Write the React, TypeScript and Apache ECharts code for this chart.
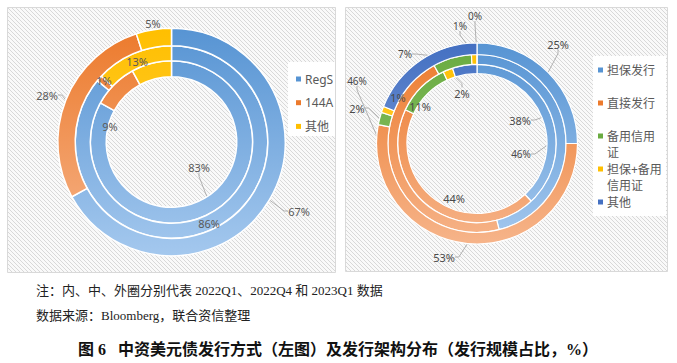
import React, { useEffect, useRef } from 'react';
import * as echarts from 'echarts';

// ---------- data ----------
const leftCategories = ['RegS', '144A', '其他'];
const left2022Q1 = [83, 9, 8];
const left2022Q4 = [86, 1, 13];
const left2023Q1 = [67, 28, 5];

const rightCategories = ['担保发行', '直接发行', '备用信用证', '担保+备用信用证', '其他'];
const rightLegendText = ['担保发行', '直接发行', '备用信用\n证', '担保+备用\n信用证', '其他'];
const right2022Q1 = [38, 44, 11, 2, 5];
const right2022Q4 = [46, 46, 7, 1, 0];
const right2023Q1 = [25, 53, 2, 1, 19];

const noteText = '注：内、中、外圈分别代表 2022Q1、2022Q4 和 2023Q1 数据';
const sourceText = '数据来源：Bloomberg，联合资信整理';
const titleText = '图 6   中资美元债发行方式（左图）及发行架构分布（发行规模占比，%）';

// ---------- styles ----------
const BLUE: [string, string] = ['#5794d3', '#a4c8ee'];
const ORANGE: [string, string] = ['#ec7a2c', '#f6b48a'];
const YELLOW: [string, string] = ['#ffbf00', '#ffd24d'];
const GREEN: [string, string] = ['#6aab41', '#8cc46a'];
const DBLUE: [string, string] = ['#4470c2', '#8aa7df'];
const leftColors = [BLUE, ORANGE, YELLOW];
const rightColors = [BLUE, ORANGE, GREEN, YELLOW, DBLUE];

const SANS = "'Noto Sans', 'Noto Sans CJK SC', sans-serif";
const SERIF = "'Liberation Serif', 'Noto Sans CJK SC', serif";

// label placement: seriesIndex-dataIndex -> [x, y, leaderLine, fontSize]
const labelPlace: Record<string, [number, number, boolean, number]> = {
  '0-0': [199, 167, true, 11],
  '0-1': [110, 126, true, 11],
  '1-0': [209, 223, false, 11],
  '1-1': [104, 80, false, 11],
  '1-2': [137, 61, false, 11],
  '2-0': [299, 211, true, 11],
  '2-1': [47, 95, true, 11],
  '2-2': [153, 23, false, 11],
  '3-0': [520, 120, true, 11],
  '3-1': [454, 198, false, 11],
  '3-2': [420, 106, false, 11],
  '3-3': [462, 93, true, 11],
  '4-0': [521, 154, true, 10],
  '4-1': [357, 81, true, 10],
  '4-2': [405, 54, true, 10],
  '4-3': [460, 26, true, 10],
  '4-4': [475, 16, true, 10],
  '5-0': [558, 44, true, 11],
  '5-1': [444, 257, true, 11],
  '5-2': [357, 108, true, 11],
  '5-3': [398, 97, false, 11],
};

function grad(c: [string, string], y0: number, y1: number) {
  return {
    type: 'linear', x: 0, y: y0, x2: 0, y2: y1, global: true,
    colorStops: [{ offset: 0, color: c[0] }, { offset: 1, color: c[1] }],
  };
}

function ring(
  seriesIndex: number, name: string, values: number[], cats: string[], colors: [string, string][],
  center: [number, number], radius: [number, number], outerR: number, bw: number, textColor: string,
) {
  return {
    type: 'pie', name, center, radius, startAngle: 90, clockwise: true,
    avoidLabelOverlap: false, silent: true, minShowLabelAngle: 0,
    itemStyle: { borderColor: '#ffffff', borderWidth: bw },
    label: { show: true, position: 'outside', formatter: '{c}%', fontSize: 11, color: textColor, fontFamily: SANS },
    labelLine: { show: true, length: 4, length2: 4, lineStyle: { color: '#a0a0a0', width: 0.8 } },
    labelLayout: (p: any) => {
      const lp = labelPlace[`${p.seriesIndex}-${p.dataIndex}`];
      if (!lp) return {};
      return { x: lp[0], y: lp[1], align: 'center', verticalAlign: 'middle' };
    },
    data: values.map((v, i) => {
      const lp = labelPlace[`${seriesIndex}-${i}`];
      return {
        name: cats[i], value: v,
        itemStyle: { color: grad(colors[i], center[1] - outerR, center[1] + outerR) },
        label: { show: !!lp, fontSize: lp ? lp[3] : 11 },
        labelLine: { show: lp ? lp[2] : false },
      };
    }),
  };
}

export default function App() {
  const ref = useRef<HTMLDivElement>(null);
  useEffect(() => {
    document.body.style.margin = '0';
    if (!ref.current) return;
    const chart = echarts.init(ref.current, undefined, { renderer: 'svg' });

    const tile = document.createElement('canvas');
    tile.width = 4; tile.height = 4;
    const ctx = tile.getContext('2d')!;
    ctx.fillStyle = '#f9f9f9'; ctx.fillRect(0, 0, 4, 4);
    ctx.fillStyle = '#d8d8d8';
    for (let i = 0; i < 4; i++) ctx.fillRect(i, i, 1, 1);
    const hatch: any = { image: tile, repeat: 'repeat', imageWidth: 4, imageHeight: 4 };

    const LC: [number, number] = [171.5, 142];
    const RC: [number, number] = [477, 143.5];

    const legendEls: any[] = [];
    leftCategories.forEach((c, i) => {
      const y = 79 + i * 23.7;
      legendEls.push({ type: 'rect', z: 100, shape: { x: 296, y: y - 2.5, width: 5, height: 5 }, style: { fill: leftColors[i][0] } });
      legendEls.push({ type: 'text', z: 100, x: 305, y, style: { text: c, fill: '#595959', font: `12px ${SANS}`, textVerticalAlign: 'middle' } });
    });
    rightLegendText.forEach((c, i) => {
      const y = 70 + i * 33;
      legendEls.push({ type: 'rect', z: 100, shape: { x: 598, y: y - 2.5, width: 5, height: 5 }, style: { fill: rightColors[i][0] } });
      legendEls.push({ type: 'text', z: 100, x: 607, y: y - 8, style: { text: c, fill: '#595959', font: `12px ${SANS}`, lineHeight: 16, textVerticalAlign: 'top' } });
    });

    chart.setOption({
      animation: false,
      graphic: [
        { type: 'rect', z: -10, shape: { x: 0, y: 0, width: 677, height: 363 }, style: { fill: '#ffffff' } },
        { type: 'rect', z: -5, shape: { x: 7.5, y: 7.5, width: 328, height: 265 }, style: { fill: hatch, stroke: '#d9d9d9', lineWidth: 1 } },
        { type: 'rect', z: -5, shape: { x: 345.5, y: 7.5, width: 322, height: 264 }, style: { fill: hatch, stroke: '#d9d9d9', lineWidth: 1 } },
        { type: 'rect', z: 50, shape: { x: 288, y: 62, width: 47, height: 74 }, style: { fill: '#ffffff' } },
        { type: 'rect', z: 50, shape: { x: 593, y: 56, width: 73, height: 160 }, style: { fill: '#ffffff' } },
        ...legendEls,
        { type: 'text', z: 100, x: 36, y: 290, style: { text: noteText, fill: '#222', font: `13px ${SERIF}`, textVerticalAlign: 'middle' } },
        { type: 'text', z: 100, x: 36, y: 315, style: { text: sourceText, fill: '#222', font: `13px ${SERIF}`, textVerticalAlign: 'middle' } },
        { type: 'text', z: 100, x: 338, y: 349, style: { text: titleText, fill: '#111', font: `bold 16px ${SERIF}`, textAlign: 'center', textVerticalAlign: 'middle' } },
      ],
      series: [
        ring(0, '2022Q1', left2022Q1, leftCategories, leftColors, LC, [65.3, 81.2], 113.7, 1.5, '#595959'),
        ring(1, '2022Q4', left2022Q4, leftCategories, leftColors, LC, [81.2, 96.3], 113.7, 1.5, '#595959'),
        ring(2, '2023Q1', left2023Q1, leftCategories, leftColors, LC, [96.3, 113.7], 113.7, 1.5, '#595959'),
        ring(3, '2022Q1', right2022Q1, rightCategories, rightColors, RC, [70, 79.2], 100.5, 1.2, '#4a4a4a'),
        ring(4, '2022Q4', right2022Q4, rightCategories, rightColors, RC, [79.2, 89], 100.5, 1.2, '#4a4a4a'),
        ring(5, '2023Q1', right2023Q1, rightCategories, rightColors, RC, [89, 100.5], 100.5, 1.2, '#4a4a4a'),
      ],
    });
    return () => chart.dispose();
  }, []);
  return <div ref={ref} style={{ width: 677, height: 363 }} />;
}
